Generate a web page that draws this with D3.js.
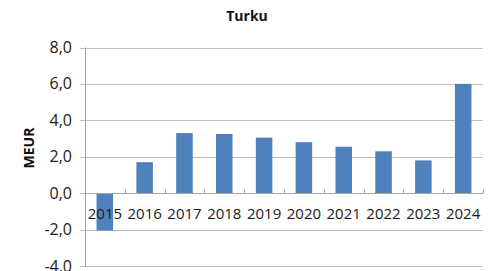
<!DOCTYPE html>
<html><head><meta charset="utf-8">
<script src="https://cdn.jsdelivr.net/npm/d3@7"></script>
<style>body{margin:0;background:#fff}svg{display:block}</style>
</head><body>
<svg id="c" width="490" height="271"></svg>
<script>
const categories = ["2015","2016","2017","2018","2019","2020","2021","2022","2023","2024"];
const values = [-2.05, 1.7, 3.3, 3.25, 3.05, 2.8, 2.55, 2.3, 1.8, 6.0];
const yTicks = [-4, -2, 0, 2, 4, 6, 8];
const title = "Turku";
const yTitle = "MEUR";

const svg = d3.select("#c");
const m = {left: 85, right: 7, top: 47.5, bottom: 5};
const W = 490, H = 271;
const font = "'Open Sans', 'Liberation Sans', sans-serif";

const x = d3.scaleBand().domain(categories).range([m.left, W - m.right]).paddingInner(0.585).paddingOuter(0.29);
const xb = d3.scaleBand().domain(categories).range([m.left, W - m.right]);
const y = d3.scaleLinear().domain([-4, 8]).range([266, m.top]);

// gridlines
svg.append("g").selectAll("line").data(yTicks).join("line")
  .attr("x1", m.left - 5).attr("x2", W - m.right)
  .attr("y1", d => Math.round(y(d)) + 0.5).attr("y2", d => Math.round(y(d)) + 0.5)
  .attr("stroke", "#bfbfbf").attr("stroke-width", 1);

// y axis line
svg.append("line").attr("x1", m.left + 0.5).attr("x2", m.left + 0.5)
  .attr("y1", y(8)).attr("y2", y(-4)).attr("stroke", "#a6a6a6");

// bars
svg.append("g").selectAll("rect").data(values).join("rect")
  .attr("x", (d, i) => x(categories[i]))
  .attr("width", x.bandwidth())
  .attr("y", d => y(Math.max(0, d)))
  .attr("height", d => Math.abs(y(d) - y(0)))
  .attr("fill", "#4f81bd");

// x axis at zero
const y0 = Math.round(y(0)) + 0.5;
svg.append("line").attr("x1", m.left).attr("x2", W - m.right).attr("y1", y0).attr("y2", y0).attr("stroke", "#a6a6a6");
const bounds = categories.map(c => xb(c)).concat([W - m.right]);
svg.append("g").selectAll("line").data(bounds.slice(1)).join("line")
  .attr("x1", d => Math.round(d) + 0.5).attr("x2", d => Math.round(d) + 0.5)
  .attr("y1", y0).attr("y2", y0 - 4).attr("stroke", "#a6a6a6");

// x labels
svg.append("g").selectAll("text").data(categories).join("text")
  .attr("x", d => xb(d) + xb.bandwidth() / 2)
  .attr("y", 219)
  .attr("text-anchor", "middle")
  .attr("font-family", font).attr("font-size", 15).attr("fill", "#1a1a1a")
  .text(d => d);

// y labels
const fmt = d => d3.format(".1f")(d).replace(".", ",").replace("−", "-");
svg.append("g").selectAll("text").data(yTicks).join("text")
  .attr("x", 72).attr("y", d => y(d) + 5.5)
  .attr("text-anchor", "end")
  .attr("font-family", font).attr("font-size", 16).attr("fill", "#1a1a1a")
  .text(d => fmt(d));

// title
svg.append("text").attr("x", 247).attr("y", 21).attr("text-anchor", "middle")
  .attr("font-family", font).attr("font-weight", "bold").attr("font-size", 14).attr("fill", "#111")
  .text(title);

// y title
svg.append("text").attr("transform", "translate(34,148) rotate(-90)").attr("text-anchor", "middle")
  .attr("font-family", font).attr("font-weight", "bold").attr("font-size", 14).attr("fill", "#111")
  .text(yTitle);
</script>
</body></html>
